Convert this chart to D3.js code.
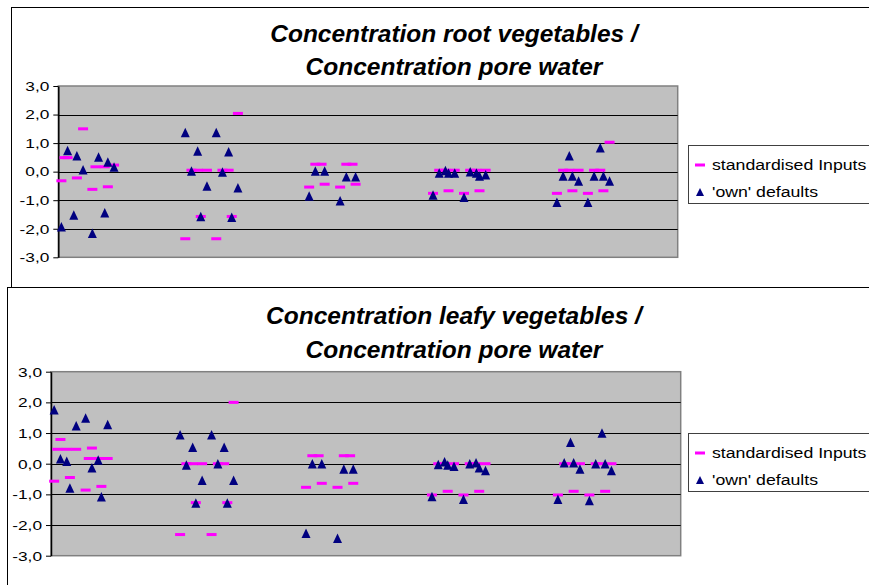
<!DOCTYPE html>
<html><head><meta charset="utf-8">
<script src="https://cdn.jsdelivr.net/npm/d3@7"></script>
<style>body{margin:0;background:#fff} svg{display:block} text{font-family:"Liberation Sans",Arial,sans-serif}</style>
</head><body>
<svg id="c" width="869" height="585"></svg>
<script>
// ---------- data ----------
const yTicks = [3, 2, 1, 0, -1, -2, -3];
const yTickLabels = ["3,0", "2,0", "1,0", "0,0", "-1,0", "-2,0", "-3,0"];
const seriesNames = ["standardised Inputs", "'own' defaults"];
const rootTitle = ["Concentration root vegetables /", "Concentration pore water"];
const leafyTitle = ["Concentration leafy vegetables /", "Concentration pore water"];

// case index (0..200) and value, chart 1: root vegetables
const rootStdX = [1,2,3,6,8,11,12,15,16,18, 41,43,45,46,48,51,53,55,56,58, 81,83,85,86,91,93,95,96, 121,123,125,126,128,131,133,135,136,138, 161,163,165,166,168,171,173,175,176,178];
const rootStdY = [-0.32,0.49,0.49,-0.22,1.50,-0.62,0.17,0.17,-0.53,0.23, -2.35,0.05,0.05,-1.57,0.05,-2.35,0.05,0.05,-1.57,2.04, -0.54,0.26,0.26,-0.44,-0.54,0.26,0.26,-0.44, -0.76,0.05,0.05,-0.67,0.05,-0.76,0.05,0.05,-0.67,0.05, -0.76,0.05,0.05,-0.67,0.05,-0.76,0.05,0.05,-0.67,1.03];
const rootOwnX = [1,3,5,6,8,11,13,15,16,18, 41,43,45,46,48,51,53,55,56,58, 81,83,86,91,93,96, 121,123,125,126,128,131,133,135,136,138, 161,163,165,166,168,171,173,175,176,178];
const rootOwnY = [-1.93,0.74,-1.52,0.56,0.07,-2.16,0.51,-1.44,0.34,0.16, 1.37,0.02,0.72,-1.57,-0.50,1.37,-0.01,0.70,-1.60,-0.56, -0.85,0.02,0.02,-1.02,-0.18,-0.18, -0.82,-0.05,0.04,-0.05,-0.05,-0.90,0.00,-0.05,-0.15,-0.11, -1.07,-0.15,0.56,-0.15,-0.33,-1.07,-0.15,0.84,-0.15,-0.33];

// chart 2: leafy vegetables
const leafyStdX = [1,2,3,5,6,8,11,12,13,15,16,18, 41,43,45,46,48,51,53,55,56,58, 81,83,85,86,91,93,95,96, 121,123,125,126,128,131,133,135,136,138, 161,163,165,166,168,171,173,175,176,178];
const leafyStdY = [-0.57,0.47,0.79,0.47,-0.45,0.47,-0.86,0.17,0.51,0.17,-0.74,0.17, -2.31,0.00,0.00,-1.27,0.00,-2.31,0.00,0.00,-1.27,2.00, -0.77,0.26,0.26,-0.64,-0.77,0.26,0.26,-0.64, -1.02,0.00,0.00,-0.90,0.00,-1.02,0.00,0.00,-0.90,0.00, -1.02,0.00,0.00,-0.90,0.00,-1.02,0.00,0.00,-0.90,0.00];
const leafyOwnX = [1,3,5,6,8,11,13,15,16,18, 41,43,45,46,48,51,53,55,56,58, 81,83,86,91,93,96, 121,123,125,126,128,131,133,135,136,138, 161,163,165,166,168,171,173,175,176,178];
const leafyOwnY = [1.76,0.16,0.08,-0.79,1.24,1.49,-0.13,0.12,-1.08,1.28, 0.94,-0.04,0.54,-1.28,-0.54,0.94,0.00,0.54,-1.28,-0.54, -2.27,0.00,0.00,-2.43,-0.17,-0.17, -1.07,-0.03,0.06,-0.04,-0.08,-1.16,0.00,0.03,-0.13,-0.22, -1.16,0.03,0.70,0.03,-0.17,-1.20,0.00,1.00,0.00,-0.22];

// ---------- layout ----------
const PINK = "#FF00FF", NAVY = "#000080";
const panels = [
  {title: rootTitle, stdX: rootStdX, stdY: rootStdY, ownX: rootOwnX, ownY: rootOwnY,
   bx: 11, by: 7, bh: 280, tY: [42, 75], left: 58.3, right: 677.7, top: 86, bottom: 257.3, lx: 688, ly: 145},
  {title: leafyTitle, stdX: leafyStdX, stdY: leafyStdY, ownX: leafyOwnX, ownY: leafyOwnY,
   bx: 7, by: 287, bh: 400, tY: [324, 358], left: 51, right: 680.7, top: 371.7, bottom: 555.7, lx: 688, ly: 433}
];
const svg = d3.select("#c");
const tickSX = 1.28, legSX = 1.18;
const tri = (w, h) => `M0,${-h/2}L${w/2},${h/2}L${-w/2},${h/2}Z`;

panels.forEach(p => {
  const g = svg.append("g");
  g.append("rect").attr("x", p.bx + 0.5).attr("y", p.by + 0.5).attr("width", 1000).attr("height", p.bh)
    .attr("fill", "#fff").attr("stroke", "#000").attr("stroke-width", 1);

  p.title.forEach((t, i) => {
    g.append("text").attr("x", 454).attr("y", p.tY[i]).attr("text-anchor", "middle")
      .attr("font-size", 24.5).attr("font-weight", "bold").attr("font-style", "italic").text(t);
  });

  const x = d3.scaleLinear().domain([0, 200]).range([p.left, p.right]);
  const y = d3.scaleLinear().domain([-3, 3]).range([p.bottom, p.top]);

  g.append("rect").attr("x", p.left).attr("y", p.top).attr("width", p.right - p.left).attr("height", p.bottom - p.top)
    .attr("fill", "#C0C0C0").attr("stroke", "#808080").attr("stroke-width", 1.5);

  g.append("g").selectAll("line").data(yTicks.filter(d => d > -3 && d < 3)).join("line")
    .attr("x1", p.left).attr("x2", p.right)
    .attr("y1", d => Math.round(y(d)) + 0.5).attr("y2", d => Math.round(y(d)) + 0.5)
    .attr("stroke", "#000").attr("stroke-width", 1);

  const ax = g.append("g").attr("transform", `translate(${p.left},0)`)
    .call(d3.axisLeft(y).tickValues(yTicks).tickFormat((d, i) => yTickLabels[i]).tickSize(5).tickSizeOuter(0));
  ax.select(".domain").attr("stroke", "#000").attr("stroke-width", 1.5);
  ax.selectAll(".tick line").attr("stroke", "#000");
  ax.selectAll(".tick text").attr("font-size", 13.5).attr("fill", "#000")
    .attr("font-family", "'Liberation Sans',Arial,sans-serif")
    .attr("x", -9 / tickSX).attr("transform", `scale(${tickSX},1)`);

  const stdData = p.stdX.map((d, i) => [d, p.stdY[i]]);
  const ownData = p.ownX.map((d, i) => [d, p.ownY[i]]);
  g.append("g").selectAll("rect").data(stdData).join("rect")
    .attr("x", d => x(d[0]) - 5).attr("y", d => y(d[1]) - 1.5).attr("width", 10).attr("height", 3)
    .attr("fill", PINK);
  g.append("g").selectAll("path").data(ownData).join("path")
    .attr("transform", d => `translate(${x(d[0])},${y(d[1])})`).attr("d", tri(9, 9.5))
    .attr("fill", NAVY);

  // legend
  const lg = g.append("g").attr("transform", `translate(${p.lx},${p.ly})`);
  lg.append("rect").attr("x", 0.5).attr("y", 0.5).attr("width", 300).attr("height", 58)
    .attr("fill", "#fff").attr("stroke", "#404040").attr("stroke-width", 1);
  lg.append("rect").attr("x", 7).attr("y", 18.5).attr("width", 10).attr("height", 3).attr("fill", PINK);
  lg.append("path").attr("transform", "translate(12,47)").attr("d", tri(8, 8)).attr("fill", NAVY);
  seriesNames.forEach((s, i) => {
    lg.append("text").attr("transform", `translate(24,${i === 0 ? 24.5 : 52}) scale(${legSX},1)`)
      .attr("font-size", 15).attr("fill", "#000").text(s);
  });
});
</script>
</body></html>
